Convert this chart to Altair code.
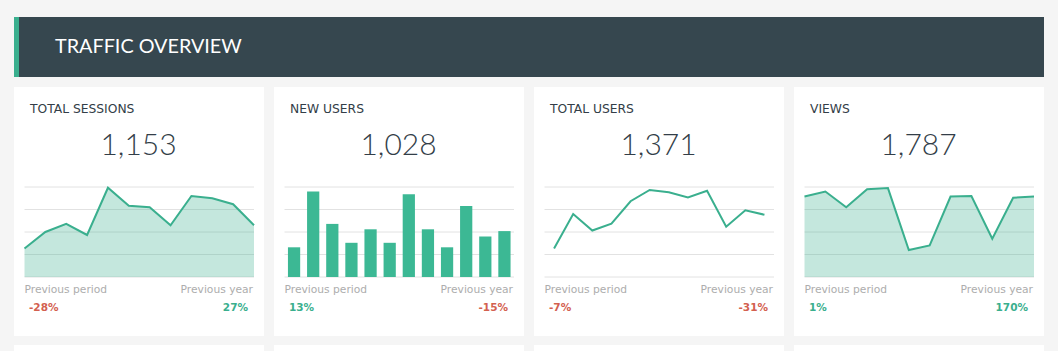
import altair as alt
import pandas as pd

# ---- data ----
days = list(range(12))
sessions = [38, 60, 71, 56, 119, 95, 93, 69, 108, 105, 97, 69]
new_users = [33, 95, 59, 38, 53, 38, 92, 53, 33, 79, 45, 51]
total_users = [38, 84, 62, 71, 101, 116, 113, 106, 115, 67, 89, 83]
views = [143, 152, 124, 156, 158, 48, 56, 143, 144, 68, 141, 143]

card_titles = ["TOTAL SESSIONS", "NEW USERS", "TOTAL USERS", "VIEWS"]
card_totals = ["1,153", "1,028", "1,371", "1,787"]
prev_period = [-28, 13, -7, 1]
prev_year = [27, -15, -31, 170]
grid_steps = [30, 25, 30, 40]
kinds = ["area", "bar", "line", "area"]
series = [sessions, new_users, total_users, views]
header_title = "TRAFFIC OVERVIEW"

# ---- styles / layout ----
PAGE_BG = "#f5f5f5"
HEADER = "#36474f"
GREEN = "#3aaf8e"
BAR_GREEN = "#3cb894"
RED = "#d3604f"
GRID = "#e2e2e2"
DARK = "#333e48"
GREY = "#adadad"
FONT = "Lato"
WIDE = "DejaVu Sans"

W, H = 1058, 351
card_x = [14, 274, 534, 794]
CARD_W = 250
CARD_TOP, CARD_BOT = 87, 336
PLOT_TOP, PLOT_BOT = 187, 277

one = pd.DataFrame({"a": [0]})


def rect(x1, x2, y1, y2, color):
    return alt.Chart(one).mark_rect(color=color).encode(
        x=alt.value(x1), x2=alt.value(x2), y=alt.value(y1), y2=alt.value(y2)
    )


def text(s, x, y, size, color, align="left", weight="normal", font=FONT):
    return alt.Chart(one).mark_text(
        text=s, align=align, baseline="middle", fontSize=size,
        color=color, fontWeight=weight, font=font
    ).encode(x=alt.value(x), y=alt.value(y))


layers = []
# header
layers.append(rect(14, 1044, 17, 77, HEADER))
layers.append(rect(14, 19, 17, 77, GREEN))
layers.append(text(header_title, 55, 46.5, 19.8, "#ffffff"))

for i, cx in enumerate(card_x):
    layers.append(rect(cx, cx + CARD_W, CARD_TOP, CARD_BOT, "#ffffff"))
    layers.append(rect(cx, cx + CARD_W, 345, H, "#ffffff"))
    left, right = cx + 10.5, cx + 240
    step = grid_steps[i]
    yscale = alt.Scale(domain=[0, 4 * step], range=[PLOT_BOT, PLOT_TOP], nice=False, zero=True)
    grid_df = pd.DataFrame({"g": [k * step for k in range(5)]})
    layers.append(
        alt.Chart(grid_df).mark_rule(color=GRID, strokeWidth=1).encode(
            y=alt.Y("g:Q", scale=yscale, axis=None),
            x=alt.value(left), x2=alt.value(right),
        )
    )
    df = pd.DataFrame({"day": days, "value": series[i]})
    y = alt.Y("value:Q", scale=yscale, axis=None)
    if kinds[i] == "area":
        xq = alt.X("day:Q", scale=alt.Scale(domain=[0, 11], range=[left, right], nice=False, zero=False), axis=None)
        layers.append(alt.Chart(df).mark_area(color=GREEN, opacity=0.3).encode(x=xq, y=y))
        layers.append(alt.Chart(df).mark_line(color=GREEN, strokeWidth=2).encode(x=xq, y=y))
    elif kinds[i] == "bar":
        xb = alt.X("day:O", scale=alt.Scale(type="band", range=[left, right], paddingInner=0.36, paddingOuter=0.18), axis=None)
        layers.append(alt.Chart(df).mark_bar(color=BAR_GREEN).encode(x=xb, y=y))
    else:
        xp = alt.X("day:O", scale=alt.Scale(type="point", range=[left, right], padding=0.5), axis=None)
        layers.append(alt.Chart(df).mark_line(color=GREEN, strokeWidth=2).encode(x=xp, y=y))

    layers.append(text(card_titles[i], cx + 16, 108.5, 12.3, DARK, font=WIDE))
    layers.append(text(card_totals[i], cx + 124.5, 146, 30, DARK, align="center", weight=300))
    layers.append(text("Previous period", cx + 10.5, 289.5, 10.7, GREY, font=WIDE))
    layers.append(text("Previous year", cx + 239, 289.5, 10.7, GREY, align="right", font=WIDE))
    pp, py = prev_period[i], prev_year[i]
    layers.append(text(f"{pp}%", cx + 15, 308, 10.5, RED if pp < 0 else GREEN, weight="bold", font=WIDE))
    layers.append(text(f"{py}%", cx + 234, 308, 10.5, RED if py < 0 else GREEN, align="right", weight="bold", font=WIDE))

chart = (
    alt.layer(*layers)
    .resolve_scale(x="independent", y="independent")
    .properties(width=W, height=H, autosize=alt.AutoSizeParams(type="none"), padding=0, background=PAGE_BG)
    .configure_view(stroke=None)
)

chart.save("out.html", embed_options={"renderer": "svg", "actions": False})
